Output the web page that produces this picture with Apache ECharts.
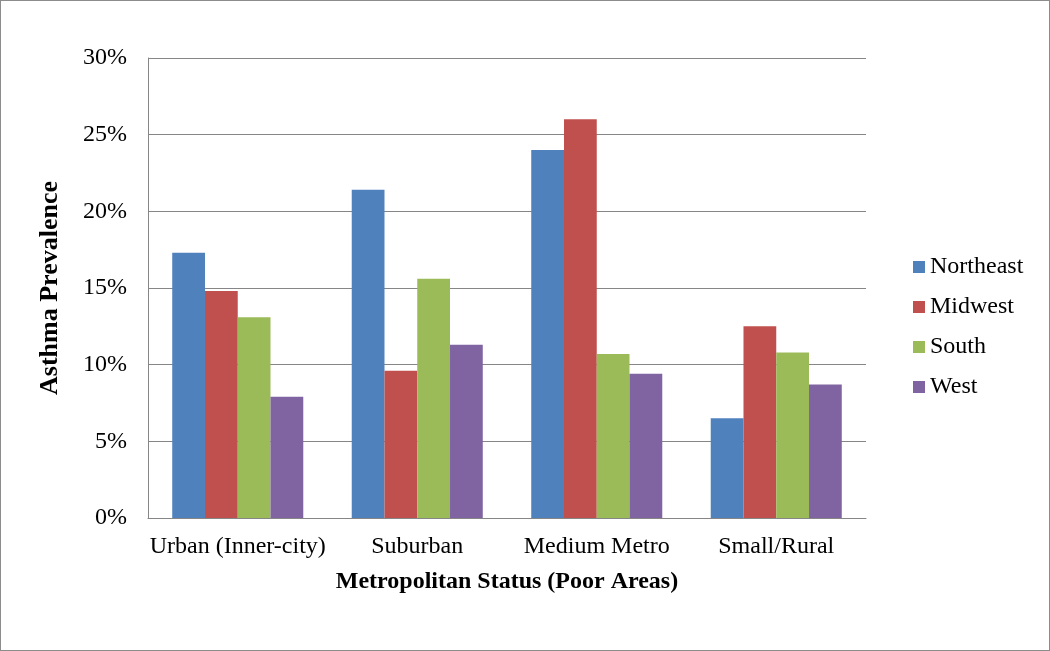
<!DOCTYPE html>
<html>
<head>
<meta charset="utf-8">
<title>Asthma Prevalence</title>
<script src="https://cdn.jsdelivr.net/npm/echarts@6/dist/echarts.min.js"></script>
<style>
  html, body { margin: 0; padding: 0; background: #fff; }
  #chart { width: 1048px; height: 649px; border: 1px solid #8c8c8c; }
</style>
</head>
<body>
<div id="chart"></div>
<script>
const categories = ['Urban (Inner-city)', 'Suburban', 'Medium Metro', 'Small/Rural']
const northeast = [17.3, 21.4, 24.0, 6.5]
const midwest = [14.8, 9.6, 26.0, 12.5]
const south = [13.1, 15.6, 10.7, 10.8]
const west = [7.9, 11.3, 9.4, 8.7]
const yTicks = [0, 5, 10, 15, 20, 25, 30]

const fontFamily = '"Liberation Serif", "DejaVu Serif", serif'
const gridColor = '#868686'

const chart = echarts.init(document.getElementById('chart'))

function bar(name, data, color) {
  return {
    name: name,
    type: 'bar',
    data: data,
    barGap: '0%',
    barCategoryGap: '27%',
    itemStyle: { color: color },
    animation: false
  }
}

chart.setOption({
  textStyle: { fontFamily: fontFamily },
  grid: {
    left: 147,
    right: 183,
    top: 57,
    bottom: 132,
    containLabel: false
  },
  legend: {
    orient: 'vertical',
    left: 912,
    top: 254,
    padding: 0,
    itemWidth: 12,
    itemHeight: 12,
    itemGap: 16,
    icon: 'rect',
    textStyle: { fontFamily: fontFamily, fontSize: 24, color: '#000', lineHeight: 24 },
    data: ['Northeast', 'Midwest', 'South', 'West']
  },
  xAxis: {
    type: 'category',
    data: categories,
    axisLine: { lineStyle: { color: gridColor, width: 1 } },
    axisTick: { show: false },
    axisLabel: {
      interval: 0,
      margin: 17,
      fontSize: 24,
      color: '#000',
      fontFamily: fontFamily
    },
    name: 'Metropolitan Status (Poor Areas)',
    nameLocation: 'middle',
    nameGap: 52,
    nameTextStyle: {
      fontFamily: fontFamily,
      fontSize: 24,
      fontWeight: 'bold',
      color: '#000'
    }
  },
  yAxis: {
    type: 'value',
    min: yTicks[0],
    max: yTicks[yTicks.length - 1],
    interval: 5,
    axisLine: { show: true, lineStyle: { color: gridColor, width: 1 } },
    axisTick: { show: false },
    splitLine: { lineStyle: { color: gridColor, width: 1 } },
    axisLabel: {
      margin: 21,
      fontSize: 24,
      color: '#000',
      fontFamily: fontFamily,
      formatter: '{value}%'
    },
    name: 'Asthma Prevalence',
    nameLocation: 'middle',
    nameGap: 85,
    nameTextStyle: {
      fontFamily: fontFamily,
      fontSize: 26,
      fontWeight: 'bold',
      color: '#000'
    }
  },
  series: [
    bar('Northeast', northeast, '#4F81BD'),
    bar('Midwest', midwest, '#C0504D'),
    bar('South', south, '#9BBB59'),
    bar('West', west, '#8064A2')
  ]
})
</script>
</body>
</html>
